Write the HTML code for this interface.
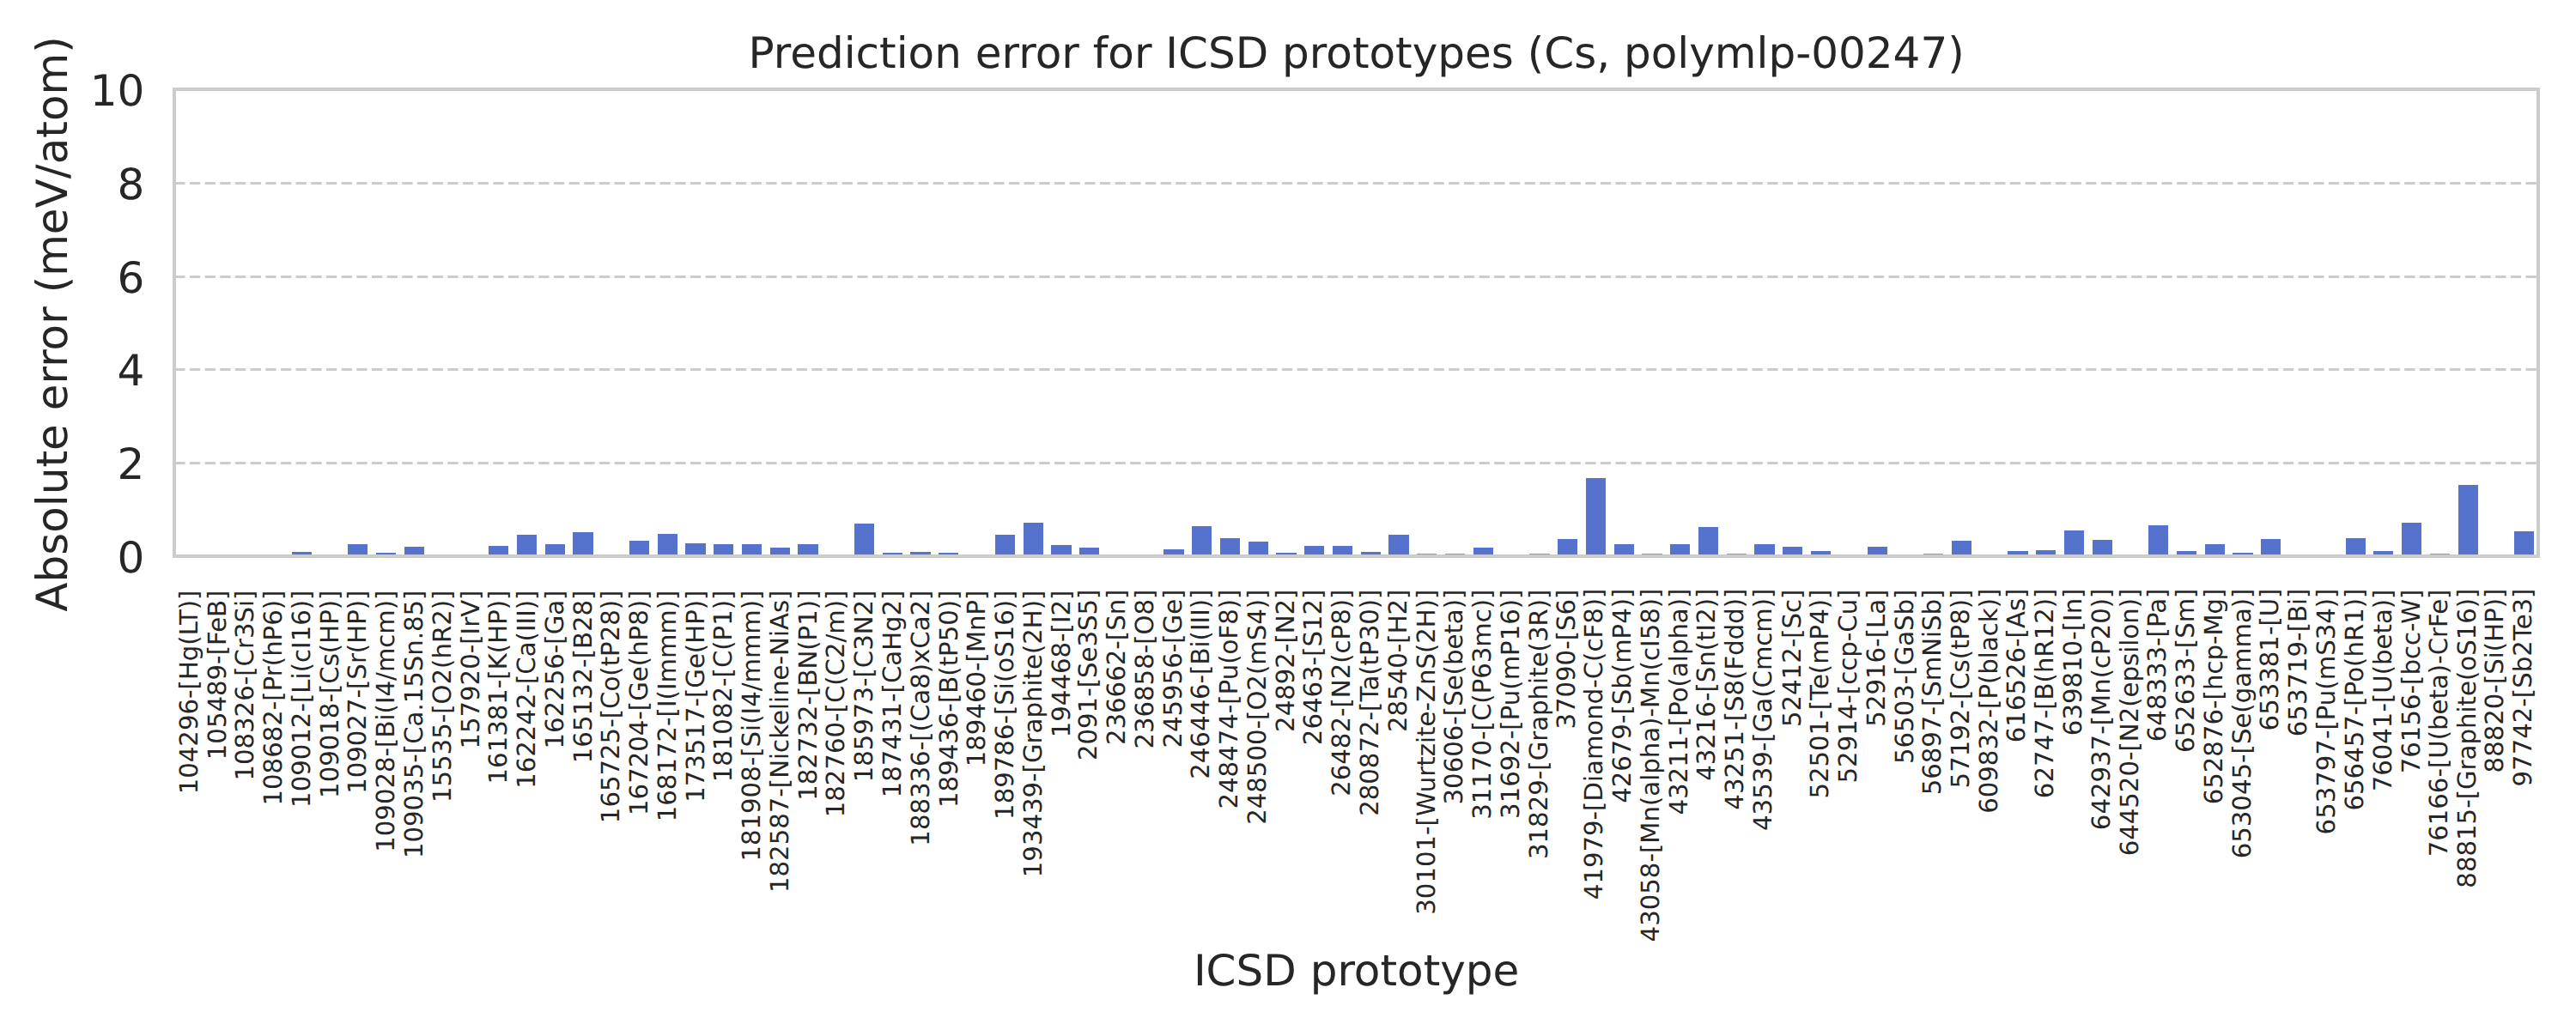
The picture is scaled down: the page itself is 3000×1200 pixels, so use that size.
<!DOCTYPE html>
<html><head><meta charset="utf-8"><title>Prediction error for ICSD prototypes</title>
<style>html,body{margin:0;padding:0;background:#fff;}svg{display:block;}</style></head>
<body>
<svg width="3000" height="1200" viewBox="0 0 3000 1200">
<rect width="3000" height="1200" fill="#ffffff"/>
<g stroke="#cccccc" stroke-width="3" stroke-dasharray="12.333 5.333" fill="none">
<line x1="203.25" y1="539.50" x2="2956.0" y2="539.50"/>
<line x1="203.25" y1="430.50" x2="2956.0" y2="430.50"/>
<line x1="203.25" y1="322.50" x2="2956.0" y2="322.50"/>
<line x1="203.25" y1="213.50" x2="2956.0" y2="213.50"/>
</g>
<g fill="#5573cd" shape-rendering="crispEdges">
<rect x="340" y="643" width="23" height="5.0"/>
<rect x="405" y="634" width="23" height="14.0"/>
<rect x="438" y="644" width="23" height="4.0"/>
<rect x="471" y="637" width="23" height="11.0"/>
<rect x="569" y="636" width="23" height="12.0"/>
<rect x="602" y="623" width="23" height="25.0"/>
<rect x="635" y="634" width="23" height="14.0"/>
<rect x="667" y="620" width="24" height="28.0"/>
<rect x="733" y="630" width="23" height="18.0"/>
<rect x="766" y="622" width="23" height="26.0"/>
<rect x="798" y="633" width="24" height="15.0"/>
<rect x="831" y="634" width="23" height="14.0"/>
<rect x="864" y="634" width="23" height="14.0"/>
<rect x="897" y="638" width="23" height="10.0"/>
<rect x="929" y="634" width="24" height="14.0"/>
<rect x="995" y="610" width="23" height="38.0"/>
<rect x="1028" y="644" width="23" height="4.0"/>
<rect x="1060" y="643" width="24" height="5.0"/>
<rect x="1093" y="644" width="23" height="4.0"/>
<rect x="1159" y="623" width="23" height="25.0"/>
<rect x="1192" y="609" width="23" height="39.0"/>
<rect x="1224" y="635" width="24" height="13.0"/>
<rect x="1257" y="638" width="23" height="10.0"/>
<rect x="1355" y="640" width="24" height="8.0"/>
<rect x="1388" y="613" width="23" height="35.0"/>
<rect x="1421" y="627" width="23" height="21.0"/>
<rect x="1454" y="631" width="23" height="17.0"/>
<rect x="1486" y="644" width="24" height="4.0"/>
<rect x="1519" y="636" width="23" height="12.0"/>
<rect x="1552" y="636" width="23" height="12.0"/>
<rect x="1585" y="643" width="23" height="5.0"/>
<rect x="1617" y="623" width="24" height="25.0"/>
<rect x="1650" y="645" width="23" height="3.0" fill="#8097da"/>
<rect x="1683" y="645" width="23" height="3.0" fill="#8097da"/>
<rect x="1716" y="638" width="23" height="10.0"/>
<rect x="1781" y="645" width="24" height="3.0" fill="#8097da"/>
<rect x="1814" y="628" width="23" height="20.0"/>
<rect x="1847" y="557" width="23" height="91.0"/>
<rect x="1880" y="634" width="23" height="14.0"/>
<rect x="1912" y="645" width="24" height="3.0" fill="#8097da"/>
<rect x="1945" y="634" width="23" height="14.0"/>
<rect x="1978" y="614" width="23" height="34.0"/>
<rect x="2011" y="645" width="23" height="3.0" fill="#8097da"/>
<rect x="2043" y="634" width="24" height="14.0"/>
<rect x="2076" y="637" width="23" height="11.0"/>
<rect x="2109" y="642" width="23" height="6.0"/>
<rect x="2175" y="637" width="23" height="11.0"/>
<rect x="2240" y="645" width="23" height="3.0" fill="#8097da"/>
<rect x="2273" y="630" width="23" height="18.0"/>
<rect x="2338" y="642" width="24" height="6.0"/>
<rect x="2371" y="641" width="23" height="7.0"/>
<rect x="2404" y="618" width="23" height="30.0"/>
<rect x="2437" y="629" width="23" height="19.0"/>
<rect x="2502" y="612" width="23" height="36.0"/>
<rect x="2535" y="642" width="23" height="6.0"/>
<rect x="2568" y="634" width="23" height="14.0"/>
<rect x="2600" y="644" width="24" height="4.0"/>
<rect x="2633" y="628" width="23" height="20.0"/>
<rect x="2732" y="627" width="23" height="21.0"/>
<rect x="2764" y="642" width="23" height="6.0"/>
<rect x="2797" y="609" width="23" height="39.0"/>
<rect x="2830" y="645" width="23" height="3.0" fill="#8097da"/>
<rect x="2863" y="565" width="23" height="83.0"/>
<rect x="2928" y="619" width="23" height="29.0"/>
</g>
<rect x="203" y="104" width="2753" height="544" fill="none" stroke="#cccccc" stroke-width="4"/>
<g font-family="'DejaVu Sans', 'Liberation Sans', sans-serif" fill="#262626" text-rendering="geometricPrecision">
<text x="1579.62" y="79" font-size="50.0" text-anchor="middle">Prediction error for ICSD prototypes (Cs, polymlp-00247)</text>
<text x="1579.62" y="1148" font-size="50.0" text-anchor="middle">ICSD prototype</text>
<text transform="translate(78 377.50) rotate(-90)" font-size="50.0" text-anchor="middle">Absolute error (meV/atom)</text>
<text x="168.30" y="667.00" font-size="50.000" text-anchor="end">0</text>
<text x="168.30" y="558.20" font-size="50.000" text-anchor="end">2</text>
<text x="168.30" y="449.40" font-size="50.000" text-anchor="end">4</text>
<text x="168.30" y="340.60" font-size="50.000" text-anchor="end">6</text>
<text x="168.30" y="231.80" font-size="50.000" text-anchor="end">8</text>
<text x="168.30" y="123.00" font-size="50.000" text-anchor="end">10</text>
<g font-size="29.17" text-anchor="end">
<text transform="translate(229.97 687.50) rotate(-90)">104296-[Hg(LT)]</text>
<text transform="translate(262.97 687.50) rotate(-90)">105489-[FeB]</text>
<text transform="translate(294.97 687.50) rotate(-90)">108326-[Cr3Si]</text>
<text transform="translate(327.97 687.50) rotate(-90)">108682-[Pr(hP6)]</text>
<text transform="translate(360.97 687.50) rotate(-90)">109012-[Li(cI16)]</text>
<text transform="translate(393.97 687.50) rotate(-90)">109018-[Cs(HP)]</text>
<text transform="translate(425.97 687.50) rotate(-90)">109027-[Sr(HP)]</text>
<text transform="translate(458.97 687.50) rotate(-90)">109028-[Bi(I4/mcm)]</text>
<text transform="translate(491.97 687.50) rotate(-90)">109035-[Ca.15Sn.85]</text>
<text transform="translate(524.97 687.50) rotate(-90)">15535-[O2(hR2)]</text>
<text transform="translate(557.97 687.50) rotate(-90)">157920-[IrV]</text>
<text transform="translate(589.97 687.50) rotate(-90)">161381-[K(HP)]</text>
<text transform="translate(622.97 687.50) rotate(-90)">162242-[Ca(III)]</text>
<text transform="translate(655.97 687.50) rotate(-90)">162256-[Ga]</text>
<text transform="translate(688.97 687.50) rotate(-90)">165132-[B28]</text>
<text transform="translate(720.97 687.50) rotate(-90)">165725-[Co(tP28)]</text>
<text transform="translate(753.97 687.50) rotate(-90)">167204-[Ge(hP8)]</text>
<text transform="translate(786.97 687.50) rotate(-90)">168172-[I(Immm)]</text>
<text transform="translate(819.97 687.50) rotate(-90)">173517-[Ge(HP)]</text>
<text transform="translate(851.97 687.50) rotate(-90)">181082-[C(P1)]</text>
<text transform="translate(884.97 687.50) rotate(-90)">181908-[Si(I4/mmm)]</text>
<text transform="translate(917.97 687.50) rotate(-90)">182587-[Nickeline-NiAs]</text>
<text transform="translate(950.97 687.50) rotate(-90)">182732-[BN(P1)]</text>
<text transform="translate(982.97 687.50) rotate(-90)">182760-[C(C2/m)]</text>
<text transform="translate(1015.97 687.50) rotate(-90)">185973-[C3N2]</text>
<text transform="translate(1048.97 687.50) rotate(-90)">187431-[CaHg2]</text>
<text transform="translate(1081.97 687.50) rotate(-90)">188336-[(Ca8)xCa2]</text>
<text transform="translate(1114.97 687.50) rotate(-90)">189436-[B(tP50)]</text>
<text transform="translate(1146.97 687.50) rotate(-90)">189460-[MnP]</text>
<text transform="translate(1179.97 687.50) rotate(-90)">189786-[Si(oS16)]</text>
<text transform="translate(1212.97 687.50) rotate(-90)">193439-[Graphite(2H)]</text>
<text transform="translate(1245.97 687.50) rotate(-90)">194468-[I2]</text>
<text transform="translate(1276.97 686.50) rotate(-90)">2091-[Se3S5]</text>
<text transform="translate(1309.97 686.50) rotate(-90)">236662-[Sn]</text>
<text transform="translate(1342.97 686.50) rotate(-90)">236858-[O8]</text>
<text transform="translate(1375.97 686.50) rotate(-90)">245956-[Ge]</text>
<text transform="translate(1407.97 686.50) rotate(-90)">246446-[Bi(III)]</text>
<text transform="translate(1440.97 686.50) rotate(-90)">248474-[Pu(oF8)]</text>
<text transform="translate(1473.97 686.50) rotate(-90)">248500-[O2(mS4)]</text>
<text transform="translate(1506.97 686.50) rotate(-90)">24892-[N2]</text>
<text transform="translate(1538.97 686.50) rotate(-90)">26463-[S12]</text>
<text transform="translate(1571.97 686.50) rotate(-90)">26482-[N2(cP8)]</text>
<text transform="translate(1604.97 686.50) rotate(-90)">280872-[Ta(tP30)]</text>
<text transform="translate(1637.97 686.50) rotate(-90)">28540-[H2]</text>
<text transform="translate(1670.97 686.50) rotate(-90)">30101-[Wurtzite-ZnS(2H)]</text>
<text transform="translate(1702.97 686.50) rotate(-90)">30606-[Se(beta)]</text>
<text transform="translate(1735.97 686.50) rotate(-90)">31170-[C(P63mc)]</text>
<text transform="translate(1768.97 686.50) rotate(-90)">31692-[Pu(mP16)]</text>
<text transform="translate(1801.97 686.50) rotate(-90)">31829-[Graphite(3R)]</text>
<text transform="translate(1833.97 686.50) rotate(-90)">37090-[S6]</text>
<text transform="translate(1865.97 685.50) rotate(-90)">41979-[Diamond-C(cF8)]</text>
<text transform="translate(1898.97 685.50) rotate(-90)">42679-[Sb(mP4)]</text>
<text transform="translate(1931.97 685.50) rotate(-90)">43058-[Mn(alpha)-Mn(cI58)]</text>
<text transform="translate(1964.97 685.50) rotate(-90)">43211-[Po(alpha)]</text>
<text transform="translate(1996.97 685.50) rotate(-90)">43216-[Sn(tI2)]</text>
<text transform="translate(2029.97 685.50) rotate(-90)">43251-[S8(Fddd)]</text>
<text transform="translate(2062.97 685.50) rotate(-90)">43539-[Ga(Cmcm)]</text>
<text transform="translate(2096.97 686.50) rotate(-90)">52412-[Sc]</text>
<text transform="translate(2128.97 686.50) rotate(-90)">52501-[Te(mP4)]</text>
<text transform="translate(2161.97 686.50) rotate(-90)">52914-[ccp-Cu]</text>
<text transform="translate(2194.97 686.50) rotate(-90)">52916-[La]</text>
<text transform="translate(2227.97 686.50) rotate(-90)">56503-[GaSb]</text>
<text transform="translate(2259.97 686.50) rotate(-90)">56897-[SmNiSb]</text>
<text transform="translate(2292.97 686.50) rotate(-90)">57192-[Cs(tP8)]</text>
<text transform="translate(2325.97 685.50) rotate(-90)">609832-[P(black)]</text>
<text transform="translate(2357.97 685.50) rotate(-90)">616526-[As]</text>
<text transform="translate(2390.97 685.50) rotate(-90)">62747-[B(hR12)]</text>
<text transform="translate(2423.97 685.50) rotate(-90)">639810-[In]</text>
<text transform="translate(2456.97 685.50) rotate(-90)">642937-[Mn(cP20)]</text>
<text transform="translate(2489.97 685.50) rotate(-90)">644520-[N2(epsilon)]</text>
<text transform="translate(2521.97 685.50) rotate(-90)">648333-[Pa]</text>
<text transform="translate(2554.97 685.50) rotate(-90)">652633-[Sm]</text>
<text transform="translate(2587.97 685.50) rotate(-90)">652876-[hcp-Mg]</text>
<text transform="translate(2620.97 685.50) rotate(-90)">653045-[Se(gamma)]</text>
<text transform="translate(2652.97 685.50) rotate(-90)">653381-[U]</text>
<text transform="translate(2685.97 685.50) rotate(-90)">653719-[Bi]</text>
<text transform="translate(2718.97 685.50) rotate(-90)">653797-[Pu(mS34)]</text>
<text transform="translate(2751.97 685.50) rotate(-90)">656457-[Po(hR1)]</text>
<text transform="translate(2784.97 686.50) rotate(-90)">76041-[U(beta)]</text>
<text transform="translate(2817.97 686.50) rotate(-90)">76156-[bcc-W]</text>
<text transform="translate(2849.97 686.50) rotate(-90)">76166-[U(beta)-CrFe]</text>
<text transform="translate(2882.97 685.50) rotate(-90)">88815-[Graphite(oS16)]</text>
<text transform="translate(2914.97 685.50) rotate(-90)">88820-[Si(HP)]</text>
<text transform="translate(2947.97 685.50) rotate(-90)">97742-[Sb2Te3]</text>
</g>
</g>
</svg>
</body></html>
